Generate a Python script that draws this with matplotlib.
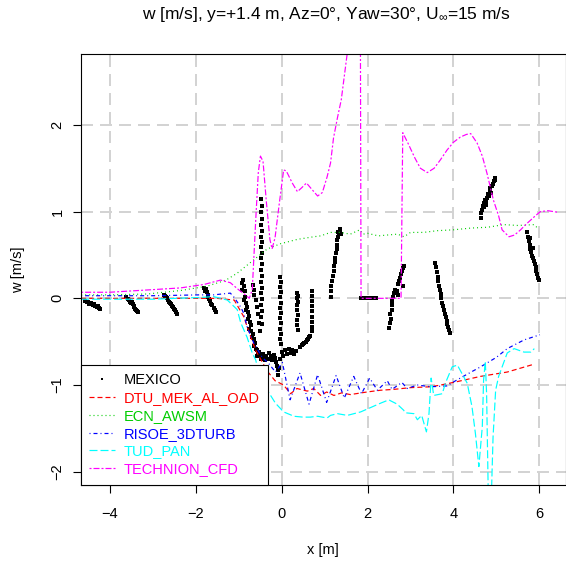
import matplotlib
matplotlib.use("Agg")
from matplotlib import pyplot as plt

plt.rcParams['font.family'] = ['Liberation Sans', 'DejaVu Sans']
plt.rcParams['mathtext.fontset'] = 'custom'
plt.rcParams['mathtext.rm'] = 'Liberation Sans'
plt.rcParams['mathtext.default'] = 'regular'
plt.rcParams['lines.scale_dashes'] = False

# --- data ---
mexico_x = [
    # x ~ -4.4
    -4.57, -4.53, -4.50, -4.47, -4.44, -4.42, -4.39, -4.36, -4.33, -4.30, -4.27, -4.24, -4.21,
    # x ~ -3.5
    -3.61, -3.58, -3.55, -3.53, -3.50, -3.48, -3.46, -3.44, -3.42, -3.40, -3.38, -3.36, -3.34,
    # x ~ -2.6
    -2.73, -2.71, -2.69, -2.66, -2.64, -2.61, -2.59, -2.57, -2.54, -2.52, -2.49, -2.47, -2.45, -2.42,
    # x ~ -1.7
    -1.80, -1.78, -1.76, -1.77, -1.74, -1.72, -1.70, -1.68, -1.66, -1.64, -1.61, -1.58, -1.55, -1.52,
    # dense band near the blade root
    -0.93, -0.90, -0.88, -0.91, -0.86, -0.84, -0.87, -0.82, -0.80, -0.83, -0.78, -0.76, -0.79, -0.74,
    -0.72, -0.75, -0.70, -0.67, -0.69, -0.64, -0.62, -0.65, -0.60, -0.57, -0.55, -0.58, -0.52, -0.50,
    -0.47, -0.44, -0.41, -0.38, -0.35, -0.32, -0.28, -0.25, -0.22, -0.18, -0.15, -0.12, -0.10, -0.08,
    -0.09, -0.06, -0.04, 0.00, 0.04, 0.08, 0.12, 0.17, 0.21, 0.25, 0.30, 0.34,
    -0.66, -0.64, -0.63, -0.60, -0.58, -0.55, -0.52, -0.50,
    # column x ~ -0.46
    -0.47, -0.45, -0.47, -0.45, -0.47, -0.45, -0.47, -0.45, -0.47, -0.45, -0.47,
    -0.45, -0.47, -0.45, -0.47, -0.45, -0.47, -0.45, -0.47, -0.45, -0.47, -0.45,
    # column x ~ 0
    -0.03, -0.01, -0.03, -0.01, -0.03, -0.01, -0.03, -0.01, -0.03, -0.01, -0.03, -0.01, -0.03, -0.01,
    # column x ~ 0.37
    0.36, 0.38, 0.36, 0.38, 0.37, 0.36, 0.38, 0.37, 0.36, 0.38,
    # column x ~ 0.71
    0.70, 0.72, 0.70, 0.72, 0.71, 0.70, 0.72, 0.71, 0.70,
    # blob x ~ 0.55
    0.44, 0.47, 0.50, 0.53, 0.56, 0.59, 0.62, 0.65, 0.67,
    # rising column x ~ 1.25
    1.14, 1.15, 1.16, 1.18, 1.19, 1.21, 1.22, 1.24, 1.25, 1.27, 1.28, 1.29, 1.30, 1.32, 1.34, 1.37,
    1.31, 1.39, 1.35,
    # zero readings x ~ 2
    1.85, 1.89, 1.92, 1.96, 1.99, 2.03, 2.06, 2.10, 2.13, 2.17, 2.20,
    # x ~ 2.7
    2.50, 2.52, 2.54, 2.53, 2.56, 2.58, 2.57, 2.60, 2.62, 2.65, 2.68, 2.70, 2.72, 2.74, 2.76, 2.78,
    2.80, 2.82, 2.84, 2.83,
    # x ~ 3.75
    3.58, 3.60, 3.62, 3.63, 3.65, 3.67, 3.69, 3.70, 3.72, 3.74, 3.76, 3.78, 3.80, 3.82, 3.84, 3.86,
    3.88, 3.90, 3.93,
    # x ~ 4.8
    4.63, 4.65, 4.67, 4.69, 4.70, 4.72, 4.74, 4.76, 4.78, 4.80, 4.82, 4.84, 4.86, 4.88, 4.90, 4.92,
    4.94, 4.96, 4.97, 4.75, 4.85,
    # x ~ 5.85
    5.72, 5.74, 5.76, 5.78, 5.79, 5.81, 5.83, 5.85, 5.87, 5.89, 5.91, 5.93, 5.95, 5.97, 5.99, 5.78, 5.84,
]
mexico_w = [
    -0.03, -0.04, -0.04, -0.06, -0.05, -0.07, -0.08, -0.07, -0.09, -0.10, -0.09, -0.11, -0.12,
    0.01, -0.01, -0.02, -0.04, -0.05, -0.04, -0.07, -0.09, -0.10, -0.12, -0.13, -0.15, -0.16,
    0.04, 0.03, 0.01, 0.00, -0.02, -0.04, -0.05, -0.07, -0.09, -0.10, -0.12, -0.14, -0.16, -0.18,
    0.12, 0.10, 0.11, 0.08, 0.07, 0.04, 0.02, -0.01, -0.03, -0.06, -0.08, -0.11, -0.13, -0.16,
    0.18, 0.21, 0.14, 0.10, 0.08, 0.02, -0.02, -0.05, -0.10, -0.13, -0.16, -0.20, -0.24, -0.27,
    -0.31, -0.35, -0.38, -0.41, -0.45, -0.47, -0.51, -0.55, -0.58, -0.60, -0.64, -0.67, -0.62, -0.66,
    -0.70, -0.64, -0.68, -0.71, -0.66, -0.70, -0.63, -0.67, -0.71, -0.65, -0.69, -0.73, -0.78, -0.83,
    -0.88, -0.80, -0.70, -0.62, -0.66, -0.60, -0.64, -0.59, -0.63, -0.60, -0.64, -0.61,
    0.15, 0.10, 0.04, -0.02, -0.10, -0.18, -0.28, -0.38,
    1.14, 1.07, 0.99, 0.92, 0.85, 0.78, 0.71, 0.65, 0.59, 0.52, 0.46,
    0.40, 0.33, 0.26, 0.19, 0.12, 0.06, -0.01, -0.08, -0.15, -0.22, -0.30,
    0.25, 0.19, 0.13, 0.07, 0.01, -0.05, -0.11, -0.17, -0.23, -0.29, -0.35, -0.41, -0.47, -0.53,
    0.06, 0.03, 0.00, -0.04, -0.08, -0.13, -0.19, -0.25, -0.31, -0.36,
    0.09, 0.03, -0.03, -0.09, -0.15, -0.21, -0.27, -0.33, -0.38,
    -0.56, -0.54, -0.53, -0.51, -0.50, -0.48, -0.47, -0.45, -0.44,
    0.02, 0.08, 0.14, 0.20, 0.26, 0.32, 0.37, 0.42, 0.47, 0.52, 0.57, 0.62, 0.67, 0.71, 0.75, 0.78,
    0.77, 0.74, 0.80,
    0.0, 0.0, 0.0, 0.0, 0.0, 0.0, 0.0, 0.0, 0.0, 0.0, 0.0,
    -0.34, -0.28, -0.24, -0.18, -0.13, -0.08, -0.03, 0.02, 0.06, 0.10, 0.08, 0.04, 0.16, 0.20, 0.24, 0.28,
    0.31, 0.35, 0.37, 0.14,
    0.41, 0.36, 0.30, 0.25, 0.20, 0.14, 0.10, 0.05, 0.00, -0.05, -0.09, -0.14, -0.18, -0.22, -0.26, -0.30,
    -0.33, -0.37, -0.40,
    0.93, 0.98, 1.02, 1.06, 1.05, 1.10, 1.13, 1.12, 1.16, 1.20, 1.18, 1.23, 1.26, 1.22, 1.29, 1.32,
    1.35, 1.37, 1.39, 1.08, 1.27,
    0.76, 0.71, 0.66, 0.62, 0.57, 0.53, 0.49, 0.47, 0.43, 0.40, 0.36, 0.32, 0.28, 0.24, 0.21, 0.70, 0.58,
]

dtu_x = [-4.66, -3.0, -1.5, -1.1, -0.88, -0.72, -0.6, -0.33, -0.15, 0.05, 0.21, 0.36, 0.6, 0.75,
         0.91, 1.05, 1.22, 1.4, 1.6, 1.99, 2.3, 2.61, 3.0, 3.47, 3.7, 4.09, 4.63, 5.25, 5.87]
dtu_w = [0.0, 0.0, 0.0, -0.02, -0.21, -0.44, -0.6, -0.84, -0.95, -1.0, -1.10, -1.04, -1.07, -1.04,
         -1.12, -1.08, -1.12, -1.09, -1.11, -1.08, -1.06, -1.05, -1.03, -1.02, -1.0, -0.96, -0.9,
         -0.85, -0.76]

ecn_x = [-4.66, -4.0, -3.12, -2.35, -1.73, -1.35, -1.26, -1.03, -0.68, -0.33, -0.02, 0.37, 0.75,
         0.91, 1.14, 1.37, 1.6, 1.82, 1.9, 2.0, 2.25, 2.46, 2.7, 2.85, 3.0, 3.3, 3.62, 4.0, 4.4,
         4.8, 5.17, 5.5, 5.87, 5.98]
ecn_w = [0.04, 0.04, 0.05, 0.09, 0.14, 0.20, 0.22, 0.29, 0.43, 0.57, 0.63, 0.68, 0.71, 0.72, 0.76,
         0.76, 0.74, 0.79, 0.74, 0.75, 0.72, 0.73, 0.74, 0.71, 0.76, 0.76, 0.78, 0.79, 0.81, 0.82,
         0.85, 0.84, 0.85, 0.80]

risoe_x = [-4.66, -3.0, -1.88, -1.58, -1.19, -1.1, -0.95, -0.88, -0.8, -0.64, -0.45, -0.3, -0.14,
           0.02, 0.2, 0.43, 0.64, 0.84, 1.05, 1.27, 1.46, 1.68, 1.86, 2.05, 2.23, 2.46, 2.57, 2.8,
           2.92, 3.16, 3.47, 3.85, 4.05, 4.3, 4.63, 5.0, 5.25, 5.64, 6.01]
risoe_w = [0.03, 0.03, 0.04, 0.04, 0.06, 0.01, -0.10, -0.17, -0.33, -0.52, -0.68, -0.75, -0.85,
           -0.74, -1.17, -0.86, -1.22, -0.88, -1.2, -0.89, -1.15, -0.9, -1.1, -0.92, -1.06, -0.95,
           -1.05, -0.97, -1.04, -1.0, -1.02, -1.01, -0.95, -0.88, -0.79, -0.68, -0.58, -0.48, -0.42]

tud_x = [-4.66, -3.0, -1.88, -1.58, -1.26, -1.03, -0.95, -0.8, -0.68, -0.6, -0.53, -0.33, -0.14,
         0.05, 0.29, 0.5, 0.67, 0.84, 1.06, 1.14, 1.3, 1.53, 1.84, 2.07, 2.3, 2.5, 2.53, 2.69, 2.84,
         2.88, 3.08, 3.16, 3.26, 3.37, 3.43, 3.48, 3.54, 3.74, 3.81, 3.97, 4.09, 4.2, 4.32, 4.43,
         4.51, 4.59, 4.67, 4.70, 4.74, 4.77, 4.82, 4.88, 4.92, 4.98, 5.05, 5.25, 5.41, 5.64, 5.8, 5.88]
tud_w = [-0.01, -0.01, 0.01, 0.02, -0.02, -0.13, -0.28, -0.45, -0.63, -0.71, -0.86, -1.06, -1.21,
         -1.31, -1.36, -1.37, -1.37, -1.36, -1.38, -1.35, -1.33, -1.35, -1.31, -1.26, -1.21, -1.17,
         -1.18, -1.22, -1.29, -1.32, -1.33, -1.40, -1.35, -1.54, -1.33, -0.92, -1.12, -1.10, -0.98,
         -0.79, -0.77, -0.87, -0.98, -1.25, -1.56, -1.94, -1.48, -0.94, -0.73, -1.1, -2.6, -2.3,
         -1.6, -1.06, -0.9, -0.63, -0.58, -0.62, -0.62, -0.58]

technion_x = [-4.66, -4.0, -3.0, -2.35, -1.8, -1.42, -1.19, -1.0, -0.84, -0.75, -0.68, -0.6, -0.54,
              -0.49, -0.43, -0.35, -0.27, -0.22, -0.15, -0.05, 0.05, 0.11, 0.25, 0.37, 0.48, 0.58,
              0.7, 0.84, 0.95, 1.06, 1.14, 1.21, 1.3, 1.39, 1.53, 1.65, 1.80, 1.83, 1.85, 2.3, 2.78,
              2.82, 2.95, 3.1, 3.23, 3.39, 3.55, 3.7, 3.85, 4.0, 4.16, 4.3, 4.4, 4.55, 4.67, 4.78,
              4.93, 5.05, 5.13, 5.29, 5.42, 5.56, 5.7, 5.79, 5.9, 6.02, 6.2, 6.33, 6.45]
technion_w = [0.07, 0.07, 0.10, 0.12, 0.16, 0.21, 0.18, 0.10, 0.04, 0.0, 0.10, 0.9, 1.45, 1.64,
              1.58, 1.1, 0.68, 0.57, 0.7, 1.1, 1.48, 1.47, 1.33, 1.23, 1.28, 1.33, 1.26, 1.18, 1.22,
              1.40, 1.56, 1.85, 2.08, 2.29, 2.83, 3.3, 3.9, 4.0, 0.0, 0.0, 0.0, 1.91, 1.78, 1.62,
              1.50, 1.45, 1.5, 1.6, 1.71, 1.8, 1.86, 1.89, 1.9, 1.79, 1.64, 1.44, 1.13, 0.95, 0.79,
              0.71, 0.73, 0.79, 0.86, 0.90, 0.95, 1.0, 1.01, 1.0, 0.99]

xticks = [-4, -2, 0, 2, 4, 6]
yticks = [-2, -1, 0, 1, 2]

PX = 0.72  # one pixel in points at dpi 100

fig = plt.figure(figsize=(5.66, 5.63), dpi=100)
ax = fig.add_axes([0.1426, 0.1385, 0.8569, 0.7655])

ax.set_xlim(-4.67, 6.61)
ax.set_ylim(-2.153, 2.817)
ax.set_xticks(xticks)
ax.set_yticks(yticks)
ax.grid(True, color='#D3D3D3', linewidth=2 * PX, linestyle=(0, (12 * PX, 7 * PX)))
ax.set_axisbelow(True)

lw = 1.2 * PX
ax.plot(mexico_x, mexico_w, ls='none', marker='s', ms=2.5, mew=0, color='black', label='MEXICO')
ax.plot(dtu_x, dtu_w, color='#FF0000', lw=lw, ls=(0, (5 * PX, 3 * PX)), label='DTU_MEK_AL_OAD')
ax.plot(ecn_x, ecn_w, color='#00CD00', lw=lw, ls=(0, (1 * PX, 3 * PX)), label='ECN_AWSM')
ax.plot(risoe_x, risoe_w, color='#0000FF', lw=lw,
        ls=(0, (1 * PX, 3 * PX, 4 * PX, 3 * PX)), label='RISOE_3DTURB')
ax.plot(tud_x, tud_w, color='#00FFFF', lw=lw, ls=(0, (8 * PX, 3 * PX)), label='TUD_PAN')
ax.plot(technion_x, technion_w, color='#FF00FF', lw=lw,
        ls=(0, (2 * PX, 2 * PX, 6 * PX, 2 * PX)), label='TECHNION_CFD')

for s in ax.spines.values():
    s.set_color('black')
    s.set_linewidth(0.8)

ax.tick_params(axis='both', direction='out', length=8 * PX, width=0.8, labelsize=10.5)
ax.tick_params(axis='x', pad=10)
ax.tick_params(axis='y', pad=6, labelrotation=90)
for lab in ax.get_yticklabels():
    lab.set_verticalalignment('center')

ax.set_xlabel('x [m]', fontsize=10.5, va='center')
ax.xaxis.set_label_coords(0.5, -0.151)
ax.set_ylabel('w [m/s]', fontsize=10.5, va='center')
ax.yaxis.set_label_coords(-0.129, 0.5)

fig.text(0.577, 1 - 15 / 563, r'w [m/s], y=+1.4 m, Az=0°, Yaw=30°, U$_\infty$=15 m/s',
         ha='center', va='center', fontsize=12.5)

leg = ax.legend(loc='lower left', borderaxespad=0, fontsize=10.5, fancybox=False,
                framealpha=1, edgecolor='black', borderpad=0.6, labelspacing=0.26,
                handlelength=1.75, handletextpad=0.6, numpoints=1, markerscale=0.8)
leg.get_frame().set_linewidth(0.8)
for txt, line in zip(leg.get_texts(), leg.get_lines()):
    txt.set_color(line.get_color())

fig.savefig('out.png', dpi=100)
